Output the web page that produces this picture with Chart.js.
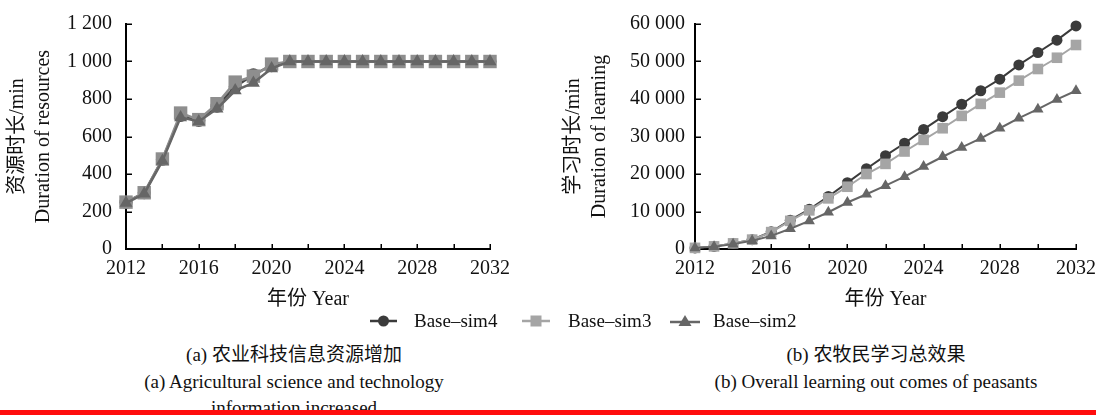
<!DOCTYPE html>
<html>
<head>
<meta charset="utf-8">
<script src="https://cdn.jsdelivr.net/npm/chart.js@4.4.1/dist/chart.umd.min.js"></script>
<style>
  html, body { margin: 0; padding: 0; background: #fff; }
  body { width: 1096px; height: 415px; position: relative; overflow: hidden;
         font-family: "Liberation Serif", "Noto Sans CJK SC", serif; color: #111; }
  canvas { position: absolute; top: 0; }
  #cLeft { left: 0; }
  #cRight { left: 548px; }
  .lg { position: absolute; top: 310px; height: 22px; line-height: 22px; font-size: 19px; white-space: nowrap; }
  .lg svg { position: absolute; top: 3px; }
  .cap { position: absolute; font-size: 19px; white-space: nowrap; transform: translateX(-50%); line-height: 22px; }
  #rule { position: absolute; left: 0; top: 410px; width: 1096px; height: 5px; background: #ff0d0d; }
</style>
</head>
<body>
<canvas id="cLeft" width="548" height="312"></canvas>
<canvas id="cRight" width="548" height="312"></canvas>

<div class="lg" style="left:368px">
  <svg width="32" height="16"><line x1="2" y1="8" x2="29" y2="8" stroke="#3b3b3b" stroke-width="2.5"/><circle cx="15.5" cy="8" r="5.5" fill="#3b3b3b"/></svg>
  <span style="position:absolute;left:46px">Base–sim4</span>
</div>
<div class="lg" style="left:520px">
  <svg width="32" height="16"><line x1="2" y1="8" x2="30" y2="8" stroke="#a5a5a5" stroke-width="2.5"/><rect x="10.5" y="2.5" width="11" height="11" fill="#a5a5a5"/></svg>
  <span style="position:absolute;left:48px">Base–sim3</span>
</div>
<div class="lg" style="left:668px">
  <svg width="34" height="16"><line x1="2" y1="9" x2="32" y2="9" stroke="#666" stroke-width="2.5"/><polygon points="17,2 23.5,13 10.5,13" fill="#666"/></svg>
  <span style="position:absolute;left:45px">Base–sim2</span>
</div>

<div class="cap" style="left:294px; top:344px">(a) 农业科技信息资源增加</div>
<div class="cap" style="left:294px; top:371px">(a) Agricultural science and technology</div>
<div class="cap" style="left:294px; top:397px">information increased</div>
<div class="cap" style="left:876px; top:344px">(b) 农牧民学习总效果</div>
<div class="cap" style="left:876px; top:371px">(b) Overall learning out comes of peasants</div>
<div id="rule"></div>

<script>
// Simulation years
const years = [2012, 2013, 2014, 2015, 2016, 2017, 2018, 2019, 2020, 2021, 2022,
               2023, 2024, 2025, 2026, 2027, 2028, 2029, 2030, 2031, 2032];

// (a) duration of agricultural information resources, min
const resSim4 = [250, 300, 478, 712, 686, 762, 865, 930, 978, 1000, 1000,
                 1000, 1000, 1000, 1000, 1000, 1000, 1000, 1000, 1000, 1000];
const resSim3 = [250, 300, 480, 725, 690, 775, 890, 922, 986, 1000, 1000,
                 1000, 1000, 1000, 1000, 1000, 1000, 1000, 1000, 1000, 1000];
const resSim2 = [245, 295, 470, 702, 680, 748, 845, 886, 963, 1000, 1000,
                 1000, 1000, 1000, 1000, 1000, 1000, 1000, 1000, 1000, 1000];

// (b) overall learning duration of peasants, min
const learnSim4 = [300, 700, 1500, 2500, 4600, 7700, 10600, 14000, 17700, 21400, 24900,
                   28200, 31900, 35300, 38600, 42200, 45300, 49100, 52400, 55700, 59500];
const learnSim3 = [300, 700, 1500, 2500, 4500, 7500, 10300, 13500, 16600, 20000, 22700,
                   26000, 29100, 32200, 35500, 38700, 41700, 44900, 48000, 51000, 54400];
const learnSim2 = [300, 600, 1300, 2200, 3500, 5400, 7500, 9800, 12400, 14600, 16900,
                   19300, 22000, 24600, 27100, 29500, 32200, 34900, 37300, 39900, 42200];

// Axis ticks
const resTicks = [0, 200, 400, 600, 800, 1000, 1200];
const learnTicks = [0, 10000, 20000, 30000, 40000, 50000, 60000];
const yearTicks = [2012, 2016, 2020, 2024, 2028, 2032];

const FAMILY = '"Liberation Serif", "Noto Sans CJK SC", serif';
const fmt = v => String(v).replace(/\B(?=(\d{3})+(?!\d))/g, ' ');

// short tick marks pointing into the plot area
const innerTicks = {
  id: 'innerTicks',
  beforeDatasetsDraw(chart) {
    const { ctx, chartArea, scales: { x, y } } = chart;
    ctx.save();
    ctx.strokeStyle = '#000';
    ctx.lineWidth = 1.5;
    ctx.beginPath();
    x.ticks.forEach(t => {
      const px = Math.round(x.getPixelForValue(t.value)) + 0.25;
      ctx.moveTo(px, chartArea.bottom);
      ctx.lineTo(px, chartArea.bottom - 5);
    });
    y.ticks.forEach(t => {
      const py = Math.round(y.getPixelForValue(t.value)) + 0.25;
      ctx.moveTo(chartArea.left, py);
      ctx.lineTo(chartArea.left + 6, py);
    });
    ctx.stroke();
    ctx.restore();
  }
};

function series(vals, label, color, style, radius, lineW, order) {
  return {
    label,
    data: years.map((yr, i) => ({ x: yr, y: vals[i] })),
    borderColor: color,
    backgroundColor: color,
    pointBackgroundColor: color,
    pointBorderColor: color,
    pointBorderWidth: 0,
    pointStyle: style,
    pointRadius: radius,
    borderWidth: lineW,
    tension: 0,
    clip: false,
    order
  };
}

function makeChart(id, datasets, yMax, yTickVals, yTitle, yWidth, titlePad, labelPad, areaRight) {
  return new Chart(document.getElementById(id), {
    type: 'line',
    data: { datasets },
    plugins: [innerTicks],
    options: {
      responsive: false,
      animation: false,
      events: [],
      layout: { padding: { top: 24, right: areaRight, left: 0, bottom: 0 } },
      plugins: { legend: { display: false }, tooltip: { enabled: false } },
      scales: {
        x: {
          type: 'linear',
          min: 2012, max: 2032,
          grid: { display: false, drawTicks: false },
          border: { display: true, color: '#000', width: 2 },
          afterBuildTicks: s => {
            s.ticks = [];
            for (let v = 2012; v <= 2032; v += 2) s.ticks.push({ value: v });
          },
          ticks: {
            autoSkip: false, maxRotation: 0, padding: 8, color: '#111',
            font: { family: FAMILY, size: 20 },
            callback: v => (yearTicks.includes(v) ? String(v) : '')
          },
          title: {
            display: true, text: '年份 Year', color: '#111',
            font: { family: FAMILY, size: 20, lineHeight: 1.2 },
            padding: { top: 0, bottom: 0 }
          },
          afterFit: s => { s.height = 63; s.paddingLeft = 0; s.paddingRight = 0; }
        },
        y: {
          min: 0, max: yMax,
          grid: { display: false, drawTicks: false },
          border: { display: true, color: '#000', width: 2 },
          afterBuildTicks: s => { s.ticks = yTickVals.map(v => ({ value: v })); },
          ticks: {
            padding: labelPad, color: '#111',
            font: { family: FAMILY, size: 20 },
            callback: v => fmt(v)
          },
          title: {
            display: true, text: yTitle, color: '#111',
            font: { family: FAMILY, size: 20, lineHeight: 1.3 },
            padding: { top: titlePad, bottom: 0 }
          },
          afterFit: s => { s.width = yWidth; s.paddingTop = 0; s.paddingBottom = 0; }
        }
      }
    }
  });
}

makeChart('cLeft', [
  series(resSim4, 'Base-sim4', '#474747', 'circle', 6.5, 2.5, 3),
  series(resSim3, 'Base-sim3', '#8e8e8e', 'rect', 9.5, 2.5, 2),
  series(resSim2, 'Base-sim2', '#666666', 'triangle', 7.5, 2.5, 1)
], 1200, resTicks, ['资源时长/min', 'Duration of resources'], 126, 5, 14, 58);

makeChart('cRight', [
  series(learnSim4, 'Base-sim4', '#3b3b3b', 'circle', 5.5, 2, 3),
  series(learnSim3, 'Base-sim3', '#a5a5a5', 'rect', 7.5, 2, 2),
  series(learnSim2, 'Base-sim2', '#666666', 'triangle', 6.5, 2, 1)
], 60000, learnTicks, ['学习时长/min', 'Duration of learning'], 147, 13, 10, 20);
</script>
</body>
</html>
